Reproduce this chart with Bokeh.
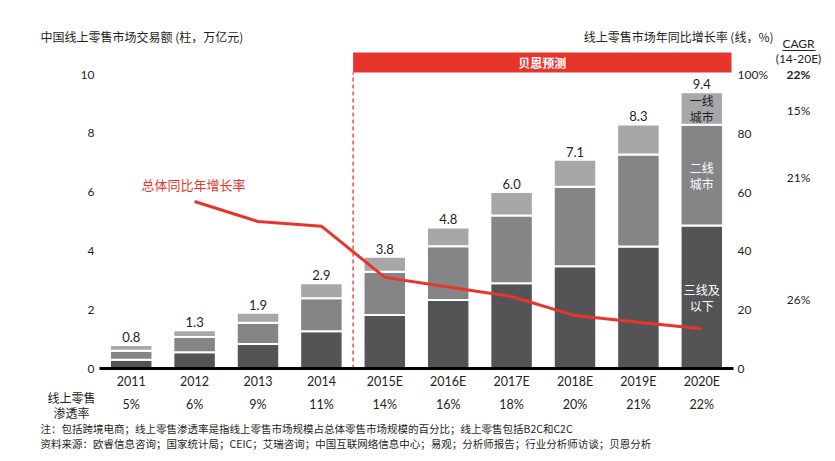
from bokeh.plotting import figure
from bokeh.models import (Range1d, LinearAxis, FixedTicker, ColumnDataSource,
                          Label, LabelSet, BoxAnnotation)
from bokeh.core.properties import value
from bokeh.embed import file_html
from bokeh.resources import INLINE

# ---------------- data ----------------
years = ["2011", "2012", "2013", "2014", "2015E", "2016E", "2017E", "2018E", "2019E", "2020E"]
tier3 = [0.30, 0.55, 0.83, 1.27, 1.82, 2.33, 2.90, 3.48, 4.15, 4.86]   # 三线及以下
tier2 = [0.30, 0.52, 0.73, 1.12, 1.47, 1.83, 2.30, 2.70, 3.13, 3.43]   # 二线城市
tier1 = [0.20, 0.23, 0.34, 0.51, 0.51, 0.64, 0.80, 0.92, 1.02, 1.11]   # 一线城市
total_labels = ["0.8", "1.3", "1.9", "2.9", "3.8", "4.8", "6.0", "7.1", "8.3", "9.4"]
growth_years = ["2012", "2013", "2014", "2015E", "2016E", "2017E", "2018E", "2019E", "2020E"]
growth = [56.8, 50.0, 48.4, 31.0, 27.7, 24.5, 18.0, 15.7, 13.5]
penetration = ["5%", "6%", "9%", "11%", "14%", "16%", "18%", "20%", "21%", "22%"]
cagr_total = "22%"
cagr_tiers = ["15%", "21%", "26%"]  # 一线, 二线, 三线及以下
left_ticks = [0, 2, 4, 6, 8, 10]
right_ticks = [0, 20, 40, 60, 80, 100]

# ---------------- layout helpers ----------------
W, H = 835, 461
FL, FR, FB = 99, 733, 368
PX_X = (FR - FL) / len(years)
PX_Y = 29.4
def X(px):
    return (px - FL) / PX_X - 0.5
def Y(py):
    return (FB - py) / PX_Y

CJK = "Noto Sans CJK SC"
NUM = "Lato"
RED = "#e8352b"
TXT = "#231f20"

idx = list(range(len(years)))
pos = {y: i for i, y in enumerate(years)}

p = figure(width=W, height=H, x_range=Range1d(X(0), X(W)), y_range=Range1d(Y(H), Y(0)),
           output_backend="svg", toolbar_location=None,
           min_border=0, x_axis_location=None, y_axis_location=None)
p.outline_line_color = None
p.xgrid.visible = False
p.ygrid.visible = False
p.background_fill_color = "white"
p.border_fill_color = "white"

def style_axis(ax):
    ax.major_tick_line_color = None
    ax.minor_tick_line_color = None
    ax.major_tick_out = 0
    ax.major_tick_in = 0
    ax.minor_tick_out = 0
    ax.minor_tick_in = 0
    ax.major_label_text_font = NUM
    ax.major_label_text_font_size = "12px"
    ax.major_label_text_color = TXT

# bottom category axis
xa = LinearAxis(ticker=FixedTicker(ticks=idx), fixed_location=0, bounds=(-0.5, len(years) - 0.5),
                major_label_overrides={i: y for i, y in enumerate(years)})
style_axis(xa)
xa.axis_line_width = 3
xa.axis_line_color = "black"
xa.major_label_standoff = 5
xa.major_label_text_font_size = "12.5px"
p.add_layout(xa, "below")

# left axis
ya = LinearAxis(ticker=FixedTicker(ticks=left_ticks), fixed_location=-0.5, bounds=(0, 10))
style_axis(ya)
ya.axis_line_color = None
ya.major_label_standoff = 5
p.add_layout(ya, "left")

# right axis
p.extra_y_ranges = {"pct": Range1d(Y(H) * 10, Y(0) * 10)}
ra = LinearAxis(y_range_name="pct", ticker=FixedTicker(ticks=right_ticks),
                fixed_location=len(years) - 0.5, bounds=(0, 100),
                major_label_overrides={100: "100%"})
style_axis(ra)
ra.axis_line_color = None
ra.major_label_standoff = 4
p.add_layout(ra, "right")

# bars
totals = [a + b + c for a, b, c in zip(tier3, tier2, tier1)]
src = ColumnDataSource(dict(x=idx, t3=tier3, t2=tier2, t1=tier1,
                            total=totals, label=total_labels, pen=penetration,
                            pen_y=[Y(404)] * len(years)))
p.vbar_stack(["t3", "t2", "t1"], x="x", width=0.67, source=src,
             color=["#545457", "#858588", "#a7a7aa"],
             line_color="white", line_width=2)

p.text(x="x", y="total", text="label", source=src, text_align="center",
       text_baseline="bottom", y_offset=-3, text_font=value(NUM),
       text_font_size="13px", text_color=TXT)

# forecast marker
split = pos["2015E"] - 0.5
p.segment(x0=[split], y0=[0], x1=[split], y1=[Y(72)], line_color=RED,
          line_width=1.3, line_dash="4 3")
p.add_layout(BoxAnnotation(left=split, right=X(731), bottom=Y(72), top=Y(52),
                           fill_color=RED, fill_alpha=1, line_color=None))
p.add_layout(Label(x=(split + X(731)) / 2, y=Y(62), text="贝恩预测",
                   text_align="center", text_baseline="middle",
                   text_font=CJK, text_font_size="12px", text_font_style="bold",
                   text_color="white"))

# growth line
p.line(x=[pos[g] for g in growth_years], y=growth, y_range_name="pct",
       line_color=RED, line_width=3)
p.add_layout(Label(x=X(141), y=Y(184), text="总体同比年增长率", text_baseline="middle",
                   text_font=CJK, text_font_size="13px", text_color=RED))

# segment labels inside last bar
i = len(years) - 1
seg_centers = [tier3[i] / 2, tier3[i] + tier2[i] / 2, tier3[i] + tier2[i] + tier1[i] / 2]
seg_text = [("三线及", "以下", "white"), ("二线", "城市", "white"), ("一线", "城市", TXT)]
for yc, (l1, l2, col) in zip(seg_centers, seg_text):
    for txt, off in ((l1, -8), (l2, 8)):
        p.add_layout(Label(x=i, y=yc, y_offset=-off, text=txt, text_align="center",
                           text_baseline="middle", text_font=CJK,
                           text_font_size="12px", text_color=col))

# CAGR column
cx = X(798)
p.add_layout(Label(x=cx, y=Y(43), text="CAGR", text_align="center", text_baseline="middle",
                   text_font=NUM, text_font_size="12px", text_color=TXT))
p.segment(x0=[X(782)], y0=[Y(50)], x1=[X(815)], y1=[Y(50)], line_color=TXT, line_width=1)
p.add_layout(Label(x=cx, y=Y(58), text="(14-20E)", text_align="center", text_baseline="middle",
                   text_font=NUM, text_font_size="12px", text_color=TXT))
p.add_layout(Label(x=cx, y=Y(74), text=cagr_total, text_align="center", text_baseline="middle",
                   text_font=NUM, text_font_size="12px", text_font_style="bold", text_color=TXT))
for yc, t in zip(seg_centers[::-1], cagr_tiers):
    p.add_layout(Label(x=cx, y=yc, y_offset=-2, text=t, text_align="center", text_baseline="middle",
                       text_font=NUM, text_font_size="12px", text_color=TXT))

# axis titles
p.add_layout(Label(x=X(40), y=Y(36), text="中国线上零售市场交易额 (柱，万亿元)", text_baseline="middle",
                   text_font=CJK, text_font_size="12px", text_color=TXT))
p.add_layout(Label(x=X(773), y=Y(36), text="线上零售市场年同比增长率 (线，%)", text_align="right",
                   text_baseline="middle", text_font=CJK, text_font_size="12px", text_color=TXT))

# penetration row
p.add_layout(Label(x=X(71), y=Y(397), text="线上零售", text_align="center", text_baseline="middle",
                   text_font=CJK, text_font_size="12px", text_color=TXT))
p.add_layout(Label(x=X(71), y=Y(412), text="渗透率", text_align="center", text_baseline="middle",
                   text_font=CJK, text_font_size="12px", text_color=TXT))
p.add_layout(LabelSet(x="x", y="pen_y", text="pen", source=src, text_align="center",
                      text_baseline="middle", text_font=value(NUM), text_font_size="12.5px",
                      text_color=TXT))

# notes
p.add_layout(Label(x=X(40), y=Y(428), text="注：包括跨境电商；线上零售渗透率是指线上零售市场规模占总体零售市场规模的百分比；线上零售包括B2C和C2C",
                   text_baseline="middle", text_font=CJK, text_font_size="10.5px", text_color=TXT))
p.add_layout(Label(x=X(40), y=Y(443), text="资料来源：欧睿信息咨询；国家统计局；CEIC；艾瑞咨询；中国互联网络信息中心；易观；分析师报告；行业分析师访谈；贝恩分析",
                   text_baseline="middle", text_font=CJK, text_font_size="10.5px", text_color=TXT))

open("out.html", "w").write(file_html(p, INLINE))
